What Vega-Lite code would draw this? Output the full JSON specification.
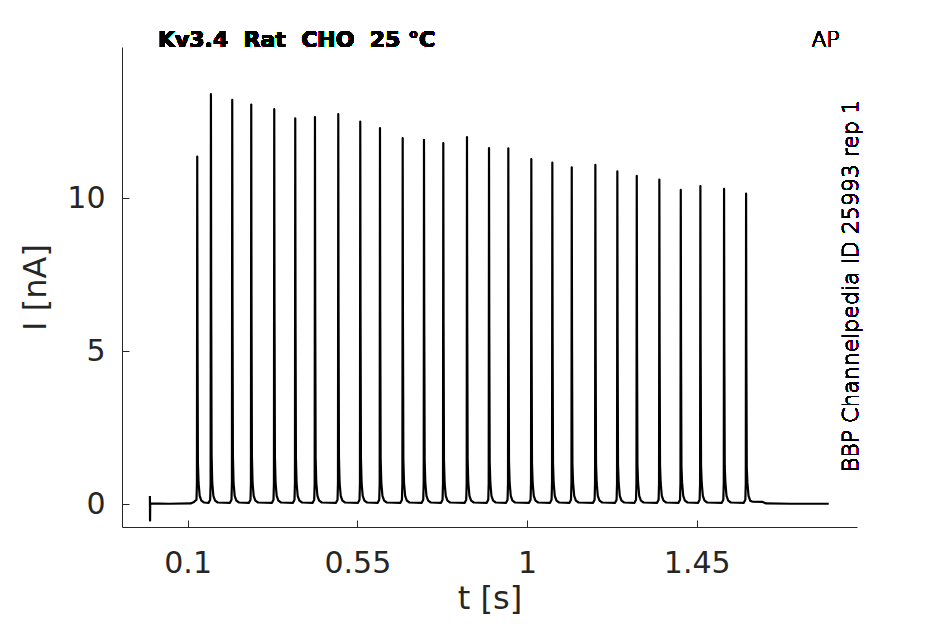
{
  "$schema": "https://vega.github.io/schema/vega-lite/v6.json",
  "width": 735,
  "height": 480,
  "autosize": "none",
  "padding": {"left": 122, "top": 47, "right": 88, "bottom": 97},
  "background": "white",
  "config": {
    "view": {"stroke": null},
    "text": {"font": "DejaVu Sans"},
    "axis": {
      "grid": false,
      "labelFont": "DejaVu Sans",
      "titleFont": "DejaVu Sans",
      "titleFontWeight": "normal",
      "labelColor": "#262626",
      "titleColor": "#262626",
      "domainColor": "#262626",
      "tickColor": "#262626",
      "domainWidth": 1,
      "tickWidth": 1,
      "tickSize": -7,
      "labelFontSize": 30,
      "titleFontSize": 32
    }
  },
  "data": {
    "values": [
      {"t": 0, "i": 0.27}, {"t": 0.0004, "i": -0.53}, {"t": 0.0008, "i": 0.03},
      {"t": 0.05, "i": 0.02}, {"t": 0.108, "i": 0.03}, {"t": 0.117, "i": 0.08},
      {"t": 0.1235, "i": 0.15}, {"t": 0.1247, "i": 0.7}, {"t": 0.1255, "i": 11.36}, {"t": 0.1262, "i": 5.68}, {"t": 0.1273, "i": 1.36}, {"t": 0.129, "i": 0.7}, {"t": 0.132, "i": 0.28}, {"t": 0.1365, "i": 0.12}, {"t": 0.1435, "i": 0.06},
      {"t": 0.1558, "i": 0.05}, {"t": 0.1598, "i": 0.15}, {"t": 0.161, "i": 0.7}, {"t": 0.1618, "i": 13.4}, {"t": 0.1625, "i": 6.7}, {"t": 0.1636, "i": 1.61}, {"t": 0.1653, "i": 0.7}, {"t": 0.1683, "i": 0.28}, {"t": 0.1728, "i": 0.12}, {"t": 0.1798, "i": 0.06},
      {"t": 0.2123, "i": 0.05}, {"t": 0.2163, "i": 0.15}, {"t": 0.2175, "i": 0.7}, {"t": 0.2183, "i": 13.21}, {"t": 0.219, "i": 6.61}, {"t": 0.2201, "i": 1.59}, {"t": 0.2218, "i": 0.7}, {"t": 0.2248, "i": 0.28}, {"t": 0.2293, "i": 0.12}, {"t": 0.2363, "i": 0.06},
      {"t": 0.2627, "i": 0.05}, {"t": 0.2667, "i": 0.15}, {"t": 0.2679, "i": 0.7}, {"t": 0.2687, "i": 13.06}, {"t": 0.2694, "i": 6.53}, {"t": 0.2705, "i": 1.57}, {"t": 0.2722, "i": 0.7}, {"t": 0.2752, "i": 0.28}, {"t": 0.2797, "i": 0.12}, {"t": 0.2867, "i": 0.06},
      {"t": 0.3237, "i": 0.05}, {"t": 0.3277, "i": 0.15}, {"t": 0.3289, "i": 0.7}, {"t": 0.3297, "i": 12.91}, {"t": 0.3304, "i": 6.46}, {"t": 0.3315, "i": 1.55}, {"t": 0.3332, "i": 0.7}, {"t": 0.3362, "i": 0.28}, {"t": 0.3407, "i": 0.12}, {"t": 0.3477, "i": 0.06},
      {"t": 0.3794, "i": 0.05}, {"t": 0.3834, "i": 0.15}, {"t": 0.3846, "i": 0.7}, {"t": 0.3854, "i": 12.61}, {"t": 0.3861, "i": 6.31}, {"t": 0.3872, "i": 1.51}, {"t": 0.3889, "i": 0.7}, {"t": 0.3919, "i": 0.28}, {"t": 0.3964, "i": 0.12}, {"t": 0.4034, "i": 0.06},
      {"t": 0.4317, "i": 0.05}, {"t": 0.4357, "i": 0.15}, {"t": 0.4369, "i": 0.7}, {"t": 0.4377, "i": 12.65}, {"t": 0.4384, "i": 6.33}, {"t": 0.4395, "i": 1.52}, {"t": 0.4412, "i": 0.7}, {"t": 0.4442, "i": 0.28}, {"t": 0.4487, "i": 0.12}, {"t": 0.4557, "i": 0.06},
      {"t": 0.4935, "i": 0.05}, {"t": 0.4975, "i": 0.15}, {"t": 0.4987, "i": 0.7}, {"t": 0.4995, "i": 12.75}, {"t": 0.5002, "i": 6.38}, {"t": 0.5013, "i": 1.53}, {"t": 0.503, "i": 0.7}, {"t": 0.506, "i": 0.28}, {"t": 0.5105, "i": 0.12}, {"t": 0.5175, "i": 0.06},
      {"t": 0.5518, "i": 0.05}, {"t": 0.5558, "i": 0.15}, {"t": 0.557, "i": 0.7}, {"t": 0.5578, "i": 12.5}, {"t": 0.5585, "i": 6.25}, {"t": 0.5596, "i": 1.5}, {"t": 0.5613, "i": 0.7}, {"t": 0.5643, "i": 0.28}, {"t": 0.5688, "i": 0.12}, {"t": 0.5758, "i": 0.06},
      {"t": 0.6041, "i": 0.05}, {"t": 0.6081, "i": 0.15}, {"t": 0.6093, "i": 0.7}, {"t": 0.6101, "i": 12.29}, {"t": 0.6108, "i": 6.15}, {"t": 0.6119, "i": 1.47}, {"t": 0.6136, "i": 0.7}, {"t": 0.6166, "i": 0.28}, {"t": 0.6211, "i": 0.12}, {"t": 0.6281, "i": 0.06},
      {"t": 0.6643, "i": 0.05}, {"t": 0.6683, "i": 0.15}, {"t": 0.6695, "i": 0.7}, {"t": 0.6703, "i": 11.96}, {"t": 0.671, "i": 5.98}, {"t": 0.6721, "i": 1.44}, {"t": 0.6738, "i": 0.7}, {"t": 0.6768, "i": 0.28}, {"t": 0.6813, "i": 0.12}, {"t": 0.6883, "i": 0.06},
      {"t": 0.7208, "i": 0.05}, {"t": 0.7248, "i": 0.15}, {"t": 0.726, "i": 0.7}, {"t": 0.7268, "i": 11.91}, {"t": 0.7275, "i": 5.96}, {"t": 0.7286, "i": 1.43}, {"t": 0.7303, "i": 0.7}, {"t": 0.7333, "i": 0.28}, {"t": 0.7378, "i": 0.12}, {"t": 0.7448, "i": 0.06},
      {"t": 0.772, "i": 0.05}, {"t": 0.776, "i": 0.15}, {"t": 0.7772, "i": 0.7}, {"t": 0.778, "i": 11.8}, {"t": 0.7787, "i": 5.9}, {"t": 0.7798, "i": 1.42}, {"t": 0.7815, "i": 0.7}, {"t": 0.7845, "i": 0.28}, {"t": 0.789, "i": 0.12}, {"t": 0.796, "i": 0.06},
      {"t": 0.8348, "i": 0.05}, {"t": 0.8388, "i": 0.15}, {"t": 0.84, "i": 0.7}, {"t": 0.8408, "i": 12.0}, {"t": 0.8415, "i": 6.0}, {"t": 0.8426, "i": 1.44}, {"t": 0.8443, "i": 0.7}, {"t": 0.8473, "i": 0.28}, {"t": 0.8518, "i": 0.12}, {"t": 0.8588, "i": 0.06},
      {"t": 0.8932, "i": 0.05}, {"t": 0.8972, "i": 0.15}, {"t": 0.8984, "i": 0.7}, {"t": 0.8992, "i": 11.64}, {"t": 0.8999, "i": 5.82}, {"t": 0.901, "i": 1.4}, {"t": 0.9027, "i": 0.7}, {"t": 0.9057, "i": 0.28}, {"t": 0.9102, "i": 0.12}, {"t": 0.9172, "i": 0.06},
      {"t": 0.9444, "i": 0.05}, {"t": 0.9484, "i": 0.15}, {"t": 0.9496, "i": 0.7}, {"t": 0.9504, "i": 11.63}, {"t": 0.9511, "i": 5.82}, {"t": 0.9522, "i": 1.4}, {"t": 0.9539, "i": 0.7}, {"t": 0.9569, "i": 0.28}, {"t": 0.9614, "i": 0.12}, {"t": 0.9684, "i": 0.06},
      {"t": 1.0054, "i": 0.05}, {"t": 1.0094, "i": 0.15}, {"t": 1.0106, "i": 0.7}, {"t": 1.0114, "i": 11.28}, {"t": 1.0121, "i": 5.64}, {"t": 1.0132, "i": 1.35}, {"t": 1.0149, "i": 0.7}, {"t": 1.0179, "i": 0.28}, {"t": 1.0224, "i": 0.12}, {"t": 1.0294, "i": 0.06},
      {"t": 1.0611, "i": 0.05}, {"t": 1.0651, "i": 0.15}, {"t": 1.0663, "i": 0.7}, {"t": 1.0671, "i": 11.16}, {"t": 1.0678, "i": 5.58}, {"t": 1.0689, "i": 1.34}, {"t": 1.0706, "i": 0.7}, {"t": 1.0736, "i": 0.28}, {"t": 1.0781, "i": 0.12}, {"t": 1.0851, "i": 0.06},
      {"t": 1.1126, "i": 0.05}, {"t": 1.1166, "i": 0.15}, {"t": 1.1178, "i": 0.7}, {"t": 1.1186, "i": 11.01}, {"t": 1.1193, "i": 5.51}, {"t": 1.1204, "i": 1.32}, {"t": 1.1221, "i": 0.7}, {"t": 1.1251, "i": 0.28}, {"t": 1.1296, "i": 0.12}, {"t": 1.1366, "i": 0.06},
      {"t": 1.1752, "i": 0.05}, {"t": 1.1792, "i": 0.15}, {"t": 1.1804, "i": 0.7}, {"t": 1.1812, "i": 11.09}, {"t": 1.1819, "i": 5.55}, {"t": 1.183, "i": 1.33}, {"t": 1.1847, "i": 0.7}, {"t": 1.1877, "i": 0.28}, {"t": 1.1922, "i": 0.12}, {"t": 1.1992, "i": 0.06},
      {"t": 1.2335, "i": 0.05}, {"t": 1.2375, "i": 0.15}, {"t": 1.2387, "i": 0.7}, {"t": 1.2395, "i": 10.88}, {"t": 1.2402, "i": 5.44}, {"t": 1.2413, "i": 1.31}, {"t": 1.243, "i": 0.7}, {"t": 1.246, "i": 0.28}, {"t": 1.2505, "i": 0.12}, {"t": 1.2575, "i": 0.06},
      {"t": 1.285, "i": 0.05}, {"t": 1.289, "i": 0.15}, {"t": 1.2902, "i": 0.7}, {"t": 1.291, "i": 10.73}, {"t": 1.2917, "i": 5.37}, {"t": 1.2928, "i": 1.29}, {"t": 1.2945, "i": 0.7}, {"t": 1.2975, "i": 0.28}, {"t": 1.302, "i": 0.12}, {"t": 1.309, "i": 0.06},
      {"t": 1.3449, "i": 0.05}, {"t": 1.3489, "i": 0.15}, {"t": 1.3501, "i": 0.7}, {"t": 1.3509, "i": 10.61}, {"t": 1.3516, "i": 5.31}, {"t": 1.3527, "i": 1.27}, {"t": 1.3544, "i": 0.7}, {"t": 1.3574, "i": 0.28}, {"t": 1.3619, "i": 0.12}, {"t": 1.3689, "i": 0.06},
      {"t": 1.4017, "i": 0.05}, {"t": 1.4057, "i": 0.15}, {"t": 1.4069, "i": 0.7}, {"t": 1.4077, "i": 10.27}, {"t": 1.4084, "i": 5.14}, {"t": 1.4095, "i": 1.23}, {"t": 1.4112, "i": 0.7}, {"t": 1.4142, "i": 0.28}, {"t": 1.4187, "i": 0.12}, {"t": 1.4257, "i": 0.06},
      {"t": 1.4537, "i": 0.05}, {"t": 1.4577, "i": 0.15}, {"t": 1.4589, "i": 0.7}, {"t": 1.4597, "i": 10.4}, {"t": 1.4604, "i": 5.2}, {"t": 1.4615, "i": 1.25}, {"t": 1.4632, "i": 0.7}, {"t": 1.4662, "i": 0.28}, {"t": 1.4707, "i": 0.12}, {"t": 1.4777, "i": 0.06},
      {"t": 1.5165, "i": 0.05}, {"t": 1.5205, "i": 0.15}, {"t": 1.5217, "i": 0.7}, {"t": 1.5225, "i": 10.31}, {"t": 1.5232, "i": 5.16}, {"t": 1.5243, "i": 1.24}, {"t": 1.526, "i": 0.7}, {"t": 1.529, "i": 0.28}, {"t": 1.5335, "i": 0.12}, {"t": 1.5405, "i": 0.06},
      {"t": 1.5749, "i": 0.05}, {"t": 1.5789, "i": 0.15}, {"t": 1.5801, "i": 0.7}, {"t": 1.5809, "i": 10.15}, {"t": 1.5816, "i": 5.08}, {"t": 1.5827, "i": 1.22}, {"t": 1.5844, "i": 0.7}, {"t": 1.5874, "i": 0.28}, {"t": 1.5919, "i": 0.12},
      {"t": 1.597, "i": 0.09}, {"t": 1.625, "i": 0.08}, {"t": 1.634, "i": 0.03}, {"t": 1.7, "i": 0.02}, {"t": 1.8, "i": 0.02}
    ]
  },
  "layer": [
    {
      "mark": {"type": "line", "color": "black", "strokeWidth": 2.2, "strokeJoin": "round"},
      "encoding": {
        "x": {
          "field": "t",
          "type": "quantitative",
          "title": "t [s]",
          "scale": {"domain": [-0.074, 1.875], "nice": false, "zero": false},
          "axis": {"values": [0.1, 0.55, 1, 1.45], "labelExpr": "format(datum.value, '~g')", "labelPadding": 28, "titlePadding": 5}
        },
        "y": {
          "field": "i",
          "type": "quantitative",
          "title": "I [nA]",
          "scale": {"domain": [-0.74, 14.94], "nice": false, "zero": false},
          "axis": {"values": [0, 5, 10], "labelExpr": "format(datum.value, '~g')", "labelPadding": 24, "titlePadding": 14}
        }
      }
    },
    {
      "mark": {"type": "text", "text": "Kv3.4\u00a0 Rat\u00a0 CHO\u00a0 25 °C", "fontSize": 22, "fontWeight": "bold", "fill": "black", "align": "left", "baseline": "alphabetic"},
      "encoding": {
        "x": {"datum": 0.0212},
        "y": {"datum": 14.94}
      }
    },
    {
      "mark": {"type": "text", "text": "AP", "fontSize": 22, "fontWeight": 300, "fill": "black", "align": "center", "baseline": "alphabetic"},
      "encoding": {
        "x": {"datum": 1.792},
        "y": {"datum": 14.94}
      }
    },
    {
      "mark": {"type": "text", "text": "BBP Channelpedia ID 25993 rep 1", "fontSize": 22, "fontWeight": 300, "fill": "black", "align": "center", "baseline": "alphabetic", "angle": 270},
      "encoding": {
        "x": {"datum": 1.878},
        "y": {"datum": 7.13}
      }
    }
  ]
}
